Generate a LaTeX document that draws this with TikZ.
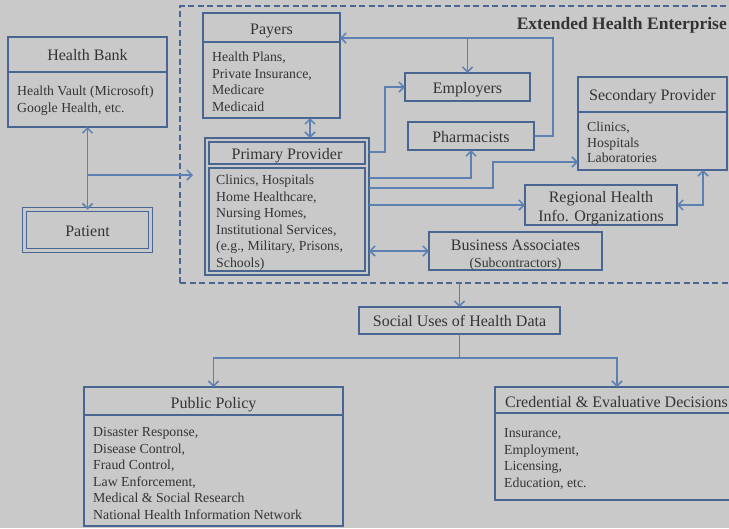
\documentclass[tikz,border=0pt]{standalone}
\usepackage{fontspec}
\setmainfont{Liberation Serif}
\usetikzlibrary{arrows.meta,calc}
\definecolor{bgc}{RGB}{201,201,201}
\definecolor{boxc}{RGB}{72,102,145}
\definecolor{linec}{RGB}{92,128,178}
\definecolor{txtc}{RGB}{52,52,52}
\begin{document}
\begin{tikzpicture}[x=1pt,y=-1pt,
  >={Straight Barb[length=5pt,width=10pt]},
  box/.style={draw=boxc, line width=1.8pt, inner sep=0pt, outer sep=0pt},
  pbox/.style={draw=boxc, line width=1.4pt, inner sep=0pt, outer sep=0pt},
  dbox/.style={draw=boxc, double=bgc, double distance=2.2pt, line width=1.3pt, inner sep=0pt, outer sep=0pt},
  divider/.style={draw=boxc, line width=1.8pt},
  conn/.style={draw=linec, line width=1.5pt},
  ttl/.style={text=txtc, font=\fontsize{16}{19}\selectfont, inner sep=0pt, anchor=base},
  cnt/.style={text=txtc, font=\fontsize{13.8}{16.5}\selectfont, inner sep=0pt, anchor=base west, align=left},
]
\useasboundingbox (0,0) rectangle (729,528);
\clip (0,0) rectangle (729,528);
\fill[bgc] (0,0) rectangle (729,528);

% enterprise dashed frame
\node[draw=boxc, line width=1.8pt, dash pattern=on 6pt off 3.5pt, inner sep=0pt, outer sep=0pt,
      minimum width=562pt, minimum height=277pt] (ent) at (461,144.5) {};
\node[text=txtc, font=\fontsize{17.5}{20}\selectfont\bfseries, inner sep=0pt, anchor=base east] (entT) at (727,29) {Extended Health Enterprise};

% Health Bank
\node[box, minimum width=159pt, minimum height=90pt] (hb) at (87.5,82) {};
\draw[divider] (hb.west |- 0,72) -- (hb.east |- 0,72);
\node[ttl] (hbT) at (87.5,60.5) {Health Bank};
\node[cnt] (hbC) at (17,112.1) {Health Vault (Microsoft)\\Google Health, etc.};

% Patient
\node[dbox, minimum width=126pt, minimum height=41pt] (pat) at (87.5,230) {};
\node[ttl] (patT) at (87.5,236.5) {Patient};

% Payers
\node[box, minimum width=137pt, minimum height=105pt] (pay) at (271.5,65.5) {};
\draw[divider] (pay.west |- 0,42) -- (pay.east |- 0,42);
\node[ttl] (payT) at (271.5,34) {Payers};
\node[cnt] (payC) at (212,111.1) {Health Plans,\\Private Insurance,\\Medicare\\Medicaid};

% Primary Provider
\node[pbox, minimum width=164pt, minimum height=137pt] (pp) at (287,206.5) {};
\draw[pbox] ($(pp.north west)+(4,4)$) rectangle ($(pp.north east)+(-4,26)$);
\draw[pbox] ($(pp.north west)+(4,30)$) rectangle ($(pp.south east)+(-4,-4)$);
\node[ttl] (ppT) at (287,159.5) {Primary Provider};
\node[cnt] (ppC) at (216,267.1) {Clinics, Hospitals\\Home Healthcare,\\Nursing Homes,\\Institutional Services,\\(e.g., Military, Prisons,\\Schools)};

% Employers / Pharmacists
\node[box, minimum width=125pt, minimum height=28pt] (emp) at (467.5,87) {};
\node[ttl] (empT) at (467.5,93.5) {Employers};
\node[box, minimum width=126pt, minimum height=28pt] (pha) at (471,136) {};
\node[ttl] (phaT) at (471,142.5) {Pharmacists};

% Secondary Provider
\node[box, minimum width=149pt, minimum height=93pt] (sec) at (652.5,123.5) {};
\draw[divider] (sec.west |- 0,112) -- (sec.east |- 0,112);
\node[ttl] (secT) at (652.5,100.5) {Secondary Provider};
\node[cnt, font=\fontsize{13.8}{15.5}\selectfont] (secC) at (587,162.6) {Clinics,\\Hospitals\\Laboratories};

% Regional Health
\node[box, minimum width=152pt, minimum height=40pt] (reg) at (601,205) {};
\node[ttl, align=center] (regT) at (601,221.5) {Regional Health\\Info. Organizations};

% Business Associates
\node[box, minimum width=173pt, minimum height=38pt] (ba) at (515.5,251) {};
\node[ttl] (baT) at (515.5,250.5) {Business Associates};
\node[ttl, font=\fontsize{13.8}{16.5}\selectfont] (baS) at (515.5,267.6) {(Subcontractors)};

% Social uses
\node[box, minimum width=201pt, minimum height=27pt] (su) at (459.5,320.5) {};
\node[ttl] (suT) at (459.5,326.5) {Social Uses of Health Data};

% Public Policy
\node[box, minimum width=259pt, minimum height=139pt] (pub) at (213.5,456.5) {};
\draw[divider] (pub.west |- 0,415) -- (pub.east |- 0,415);
\node[ttl] (pubT) at (213.5,408.5) {Public Policy};
\node[cnt] (pubC) at (93,519.1) {Disaster Response,\\Disease Control,\\Fraud Control,\\Law Enforcement,\\Medical \& Social Research\\National Health Information Network};

% Credential
\node[box, minimum width=244pt, minimum height=113pt] (cred) at (617,443.5) {};
\draw[divider] (cred.west |- 0,413) -- (cred.east |- 0,413);
\node[ttl, anchor=base west] (credT) at (505,407.5) {Credential \& Evaluative Decisions};
\node[cnt] (credC) at (504,487.1) {Insurance,\\Employment,\\Licensing,\\Education, etc.};

% connectors
\draw[conn,<->] (hb.south) -- (pat.north);
\coordinate (hbj) at (hb.south |- 0,175);
\coordinate (pin) at (193,175);
\draw[conn,->] (hbj) -- (pin);
\draw[conn,<->] (pay.south -| 310,0) -- (pp.north -| 310,0);
\coordinate (j1) at (553,38);
\draw[conn,->] (pha.east) -| (j1) -- (pay.east |- j1);
\draw[conn,->] (emp.north |- j1) -- (emp.north);
\draw[conn,->] (pp.east |- 0,152) -| (385,0 |- emp.west) -- (emp.west);
\draw[conn,->] (pp.east |- 0,178) -| (pha.south);
\draw[conn,->] (pp.east |- 0,188) -| (493,162) -- (sec.west |- 0,162);
\draw[conn,->] (pp.east |- reg.west) -- (reg.west);
\draw[conn,<->] (pp.east |- ba.west) -- (ba.west);
\draw[conn,<->] (reg.east) -| (sec.south -| 703,0);
\draw[conn,->] (ent.south -| su.north) -- (su.north);
\coordinate (sp) at (su.south |- 0,358);
\draw[conn] (su.south) -- (sp);
\draw[conn,->] (sp) -| (pub.north);
\draw[conn,->] (sp) -| (cred.north);
\end{tikzpicture}
\end{document}
